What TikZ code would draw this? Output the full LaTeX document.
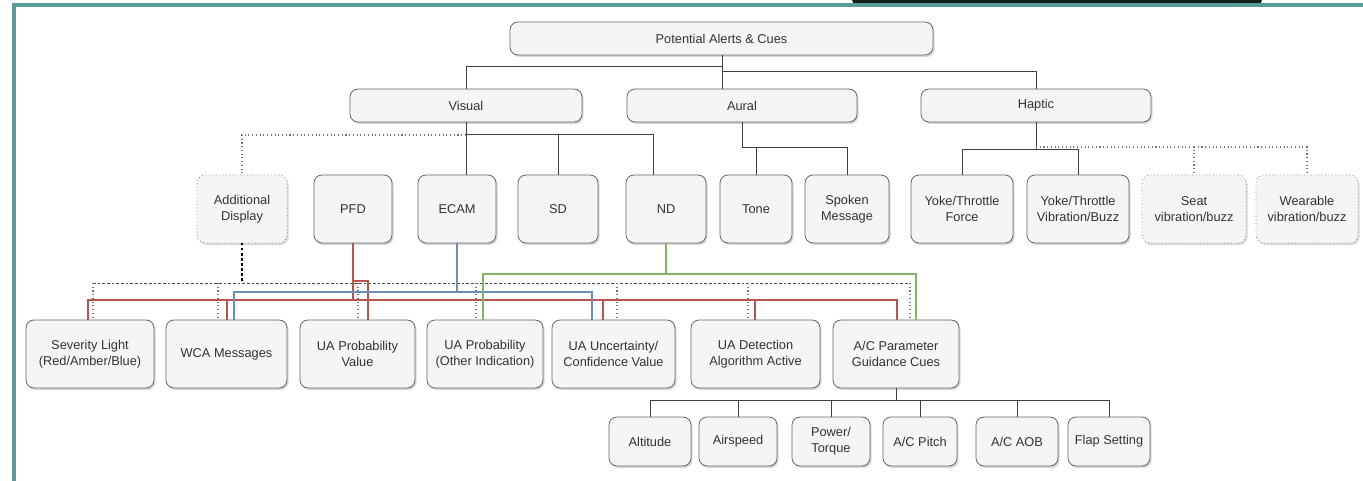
\documentclass[tikz,border=0pt]{standalone}
\usepackage{fontspec}
\setmainfont{Liberation Sans}
\usetikzlibrary{shadows}
\definecolor{tealb}{HTML}{5A9C9C}
\definecolor{boxfill}{HTML}{F5F5F5}
\definecolor{boxline}{HTML}{666666}
\definecolor{redc}{HTML}{B85450}
\definecolor{bluec}{HTML}{6C8EBF}
\definecolor{greenc}{HTML}{82B366}
\definecolor{txt}{HTML}{333333}
\tikzset{
  box/.style={draw=boxline, fill=boxfill, rounded corners=6pt, line width=0.6pt,
    align=center, text=txt, font=\fontsize{9.6}{12}\selectfont, inner sep=1pt, outer sep=0pt,
    drop shadow={shadow xshift=1.2pt, shadow yshift=-1.5pt, opacity=0.3}},
  dotbox/.style={dotted, draw=boxline!80},
  conn/.style={draw=black!75, line width=0.75pt},
  dotconn/.style={draw=black!55, dotted, line width=0.8pt},
  dashconn/.style={draw=black!70, dash pattern=on 2pt off 1.5pt, line width=0.75pt},
  thickdot/.style={draw=black, dotted, line width=1.8pt},
  redline/.style={draw=redc, line width=1.2pt},
  blueline/.style={draw=bluec, line width=1.2pt},
  greenline/.style={draw=greenc, line width=1.2pt},
}
\newcommand\bx[7][]{%
  \pgfmathsetmacro\bxX{(#3+#5)/2}%
  \pgfmathsetmacro\bxY{(#4+#6)/2}%
  \pgfmathsetmacro\bxW{(#5-#3)*0.75}%
  \pgfmathsetmacro\bxH{(#6-#4)*0.75}%
  \node[box,#1,minimum width=\bxW pt,minimum height=\bxH pt] (#2) at (\bxX,\bxY) {#7};}
\begin{document}
\begin{tikzpicture}[x=0.75pt,y=-0.75pt]
\useasboundingbox (0,0) rectangle (1363,481);
\fill[white] (0,0) rectangle (1363,481);
% top fragment and frame
\fill[black!80!tealb, rounded corners=3pt] (852,-6) rectangle (1262,4);
\draw[tealb, line width=2.8pt] (14,481) -- (14,5) -- (1363,5);

% level 0/1
\bx{root}{510}{22}{933}{55}{Potential Alerts \& Cues}
\bx{visual}{350}{89}{582}{122}{Visual}
\bx{aural}{627}{89}{857}{122}{Aural}
\bx{haptic}{921}{89}{1151}{122}{Haptic}
% level 2
\bx[dotbox]{adisp}{197}{175}{287}{243}{Additional\\Display}
\bx{pfd}{314}{175}{392}{243}{PFD}
\bx{ecam}{418}{175}{496}{243}{ECAM}
\bx{sd}{518}{175}{598}{243}{SD}
\bx{nd}{626}{175}{706}{243}{ND}
\bx{tone}{720}{175}{792}{243}{Tone}
\bx{spoken}{805}{175}{889}{243}{Spoken\\Message}
\bx{yf}{911}{175}{1013}{243}{Yoke/Throttle\\Force}
\bx{yv}{1027}{175}{1129}{243}{Yoke/Throttle\\Vibration/Buzz}
\bx[dotbox]{seat}{1142}{175}{1246}{243}{Seat\\vibration/buzz}
\bx[dotbox]{wear}{1256}{175}{1358}{243}{Wearable\\vibration/buzz}
% level 3
\bx{sev}{26}{320}{154}{388}{Severity Light\\(Red/Amber/Blue)}
\bx{wca}{166}{320}{287}{388}{WCA Messages}
\bx{uapv}{300}{320}{415}{388}{UA Probability\\Value}
\bx{uapo}{427}{320}{543}{388}{UA Probability\\(Other Indication)}
\bx{uau}{552}{320}{675}{388}{UA Uncertainty/\\Confidence Value}
\bx{uad}{691}{320}{820}{388}{UA Detection\\Algorithm Active}
\bx{acp}{833}{320}{959}{388}{A/C Parameter\\Guidance Cues}
% level 4
\bx{alt}{609}{417}{691}{466}{Altitude}
\bx{air}{699}{417}{777}{466}{Airspeed}
\bx{pow}{792}{417}{870}{466}{Power/\\Torque}
\bx{pit}{883}{417}{957}{466}{A/C Pitch}
\bx{aob}{976}{417}{1058}{466}{A/C AOB}
\bx{flap}{1068}{417}{1150}{466}{Flap Setting}

% root connectors
\draw[conn] (722,0 |- root.south) -- (722,0 |- aural.north);
\draw[conn] (722,67) -| (visual.north);
\draw[conn] (722,72) -| (haptic.north);
% visual connectors
\draw[conn] (visual.south) -- (466,0 |- ecam.north);
\draw[conn] (466,135) -| (sd.north);
\draw[conn] (466,135) -| (653,0 |- nd.north);
\draw[dotconn] (466,135) -| (adisp.north);
% aural connectors
\draw[conn] (aural.south) -- (742,148) -| (spoken.north);
\draw[conn] (tone.north |- 0,148) -- (tone.north);
% haptic connectors
\draw[conn] (haptic.south) -- (1036,150);
\draw[conn] (yf.north) |- (yv.north |- 0,150) -- (yv.north);
\draw[dotconn] (1036,147) -| (seat.north);
\draw[dotconn] (seat.north |- 0,147) -| (wear.north);

% additional display (black dotted/dashed)
\draw[thickdot] (adisp.south) -- (242,283);
\draw[dashconn] (93,283) -- (910,283);
\foreach \xx/\nn in {93/sev,218/wca,358/uapv,476/uapo,617/uau,748/uad,910/acp}
  \draw[dotconn] (\xx,283) -- (\xx,0 |- \nn.north);
% PFD (red)
\draw[redline] (pfd.south) -- (353,300);
\draw[redline] (88,0 |- sev.north) |- (897,300) -- (897,0 |- acp.north);
\foreach \xx/\nn in {227/wca,603/uau,755/uad}
  \draw[redline] (\xx,300) -- (\xx,0 |- \nn.north);
\draw[redline] (353,281) -| (368,0 |- uapv.north);
% ECAM (blue)
\draw[blueline] (ecam.south) -- (457,292);
\draw[blueline] (234,0 |- wca.north) |- (592,292) -- (592,0 |- uau.north);
% ND (green)
\draw[greenline] (nd.south) -- (666,274);
\draw[greenline] (483,0 |- uapo.north) |- (916,274) -- (916,0 |- acp.north);
% A/C parameter children
\draw[conn] (acp.south) -- (896,400);
\draw[conn] (alt.north) |- (flap.north |- 0,400) -- (flap.north);
\foreach \nn in {air,pow,pit,aob}
  \draw[conn] (\nn.north |- 0,400) -- (\nn.north);
\end{tikzpicture}
\end{document}
